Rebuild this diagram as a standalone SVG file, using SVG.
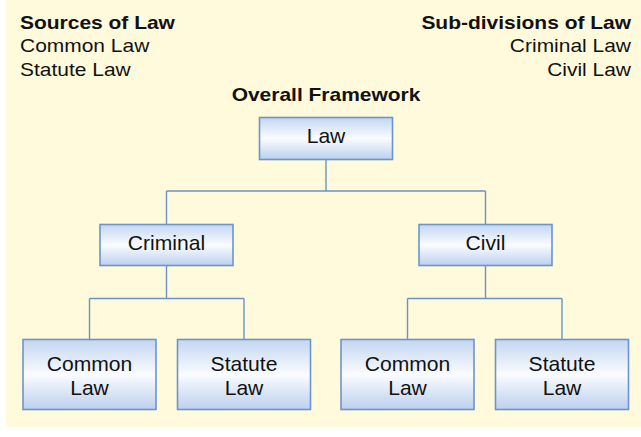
<svg xmlns="http://www.w3.org/2000/svg" width="641" height="437" viewBox="0 0 641 437">
<defs>
<linearGradient id="boxgrad" x1="0" y1="0" x2="0" y2="1">
<stop offset="0" stop-color="#C3D6F1"/>
<stop offset="0.5" stop-color="#FAFCFF"/>
<stop offset="1" stop-color="#BCD0EE"/>
</linearGradient>
</defs>
<style>
.box{fill:url(#boxgrad);stroke:#6B95CB;stroke-width:1.6}
.conn{fill:none;stroke:#6B93C6;stroke-width:1.4}
.hdr{font-family:"Liberation Sans",Arial,sans-serif;font-size:18px;fill:#111}
.b{font-weight:bold}
.lbl{font-family:"Liberation Sans",Arial,sans-serif;font-size:20.5px;fill:#111;text-anchor:middle}
</style>
<rect x="0" y="0" width="641" height="437" fill="#FFFFFF"/>
<rect x="6" y="0" width="635" height="427" fill="#FFFADB"/>
<g id="headers">
<text class="hdr b" transform="translate(20,28.5) scale(1.165,1)">Sources of Law</text>
<text class="hdr" transform="translate(20,52) scale(1.165,1)">Common Law</text>
<text class="hdr" transform="translate(20,75.5) scale(1.165,1)">Statute Law</text>
<text class="hdr b" text-anchor="end" transform="translate(631,28.5) scale(1.165,1)">Sub-divisions of Law</text>
<text class="hdr" text-anchor="end" transform="translate(631,52) scale(1.165,1)">Criminal Law</text>
<text class="hdr" text-anchor="end" transform="translate(631,75.5) scale(1.165,1)">Civil Law</text>
<text class="hdr b" text-anchor="middle" transform="translate(326,101) scale(1.165,1)">Overall Framework</text>
</g>
<g id="connectors">
<path class="conn" d="M326,159.5 V191 M166.5,191 H485.5 M166.5,191 V224.5 M485.5,191 V224.5"/>
<path class="conn" d="M166.5,265.5 V298.5 M89.5,298.5 H244 M89.5,298.5 V339.5 M244,298.5 V339.5"/>
<path class="conn" d="M485.5,265.5 V298.5 M407.5,298.5 H562 M407.5,298.5 V339.5 M562,298.5 V339.5"/>
</g>
<g id="node-law">
<rect class="box" x="259.5" y="117.5" width="133" height="42"/>
<text class="lbl" transform="translate(326,142.7) scale(1.03,1)">Law</text>
</g>
<g id="node-criminal">
<rect class="box" x="100" y="224.5" width="133" height="41"/>
<text class="lbl" transform="translate(166.5,250.2) scale(1.03,1)">Criminal</text>
</g>
<g id="node-civil">
<rect class="box" x="419" y="224.5" width="133" height="41"/>
<text class="lbl" transform="translate(485.5,250.2) scale(1.03,1)">Civil</text>
</g>
<g id="node-criminal-common">
<rect class="box" x="23" y="339.5" width="133" height="70"/>
<text class="lbl" transform="translate(89.5,370.7) scale(1.03,1)">Common</text>
<text class="lbl" transform="translate(89.5,395) scale(1.03,1)">Law</text>
</g>
<g id="node-criminal-statute">
<rect class="box" x="177.5" y="339.5" width="133" height="70"/>
<text class="lbl" transform="translate(244,370.7) scale(1.03,1)">Statute</text>
<text class="lbl" transform="translate(244,395) scale(1.03,1)">Law</text>
</g>
<g id="node-civil-common">
<rect class="box" x="341" y="339.5" width="133" height="70"/>
<text class="lbl" transform="translate(407.5,370.7) scale(1.03,1)">Common</text>
<text class="lbl" transform="translate(407.5,395) scale(1.03,1)">Law</text>
</g>
<g id="node-civil-statute">
<rect class="box" x="495.5" y="339.5" width="133" height="70"/>
<text class="lbl" transform="translate(562,370.7) scale(1.03,1)">Statute</text>
<text class="lbl" transform="translate(562,395) scale(1.03,1)">Law</text>
</g>
</svg>
